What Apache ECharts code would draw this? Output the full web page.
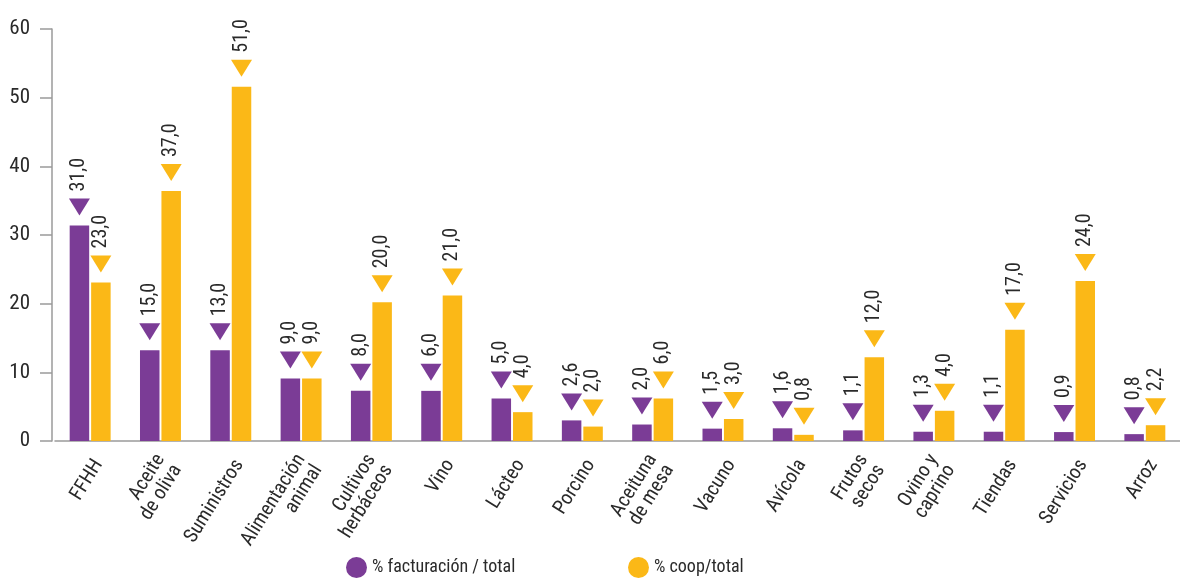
<!DOCTYPE html>
<html>
<head>
<meta charset="utf-8">
<script src="https://cdn.jsdelivr.net/npm/echarts@6/dist/echarts.min.js"></script>
<style>
html,body{margin:0;padding:0;background:#fff;}
#chart{width:1180px;height:581px;}
</style>
</head>
<body>
<div id="chart"></div>
<script>
const categories = ["FFHH","Aceite\nde oliva","Suministros","Alimentación\nanimal","Cultivos\nherbáceos","Vino","Lácteo","Porcino","Aceituna\nde mesa","Vacuno","Avícola","Frutos\nsecos","Ovino y\ncaprino","Tiendas","Servicios","Arroz"];
const seriesNames = ["% facturación / total", "% coop/total"];
// bar heights as drawn
const facturacion = [31.4,13.2,13.2,9.1,7.3,7.3,6.2,3.0,2.4,1.8,1.85,1.55,1.35,1.35,1.3,1.0];
const coop = [23.1,36.4,51.6,9.1,20.2,21.2,4.2,2.1,6.2,3.2,0.9,12.2,4.4,16.2,23.3,2.3];
// printed value labels
const facturacionLabels = ["31,0","15,0","13,0","9,0","8,0","6,0","5,0","2,6","2,0","1,5","1,6","1,1","1,3","1,1","0,9","0,8"];
const coopLabels = ["23,0","37,0","51,0","9,0","20,0","21,0","4,0","2,0","6,0","3,0","0,8","12,0","4,0","17,0","24,0","2,2"];
const yTicks = [0,10,20,30,40,50,60];

const PURPLE = "#7b3c96";
const ORANGE = "#fbb817";
const FONT = "'Roboto Condensed','Noto Sans Condensed','Liberation Sans Narrow','DejaVu Sans Condensed',sans-serif";
const TXT = "#2a2a2a";

function makeSeries(name, vals, labels, color){
  return {
    name: name,
    type: 'bar',
    data: vals,
    barWidth: 19.5,
    barGap: '10%',
    itemStyle: {color: color},
    label: {
      show: true,
      position: 'top',
      distance: 34,
      rotate: 90,
      align: 'left',
      verticalAlign: 'middle',
      fontFamily: FONT,
      fontSize: 20,
      color: TXT,
      formatter: p => labels[p.dataIndex]
    },
    markPoint: {
      symbol: 'triangle',
      symbolSize: [21, 17],
      symbolRotate: 180,
      symbolOffset: [0, -18.5],
      silent: true,
      animation: false,
      itemStyle: {color: color},
      label: {show: false},
      data: vals.map((v, i) => ({coord: [categories[i], v]}))
    }
  };
}

const legendText = {fontFamily: FONT, fontSize: 18, color: TXT};
const chart = echarts.init(document.getElementById('chart'), null, {renderer: 'canvas'});
chart.setOption({
  animation: false,
  backgroundColor: '#fff',
  grid: {left: 55, right: -7, top: 29, bottom: 140, containLabel: false},
  legend: [
    {data: [seriesNames[0]], left: 341, top: 552, icon: 'circle', itemWidth: 21, itemHeight: 21, itemGap: 6, textStyle: legendText},
    {data: [seriesNames[1]], left: 623, top: 552, icon: 'circle', itemWidth: 21, itemHeight: 21, itemGap: 6, textStyle: legendText}
  ],
  xAxis: {
    type: 'category',
    data: categories,
    axisLine: {lineStyle: {color: '#9a9a9a', width: 1.5}},
    axisTick: {show: false},
    axisLabel: {
      interval: 0,
      rotate: 58,
      margin: 15,
      formatter: v => '\n' + v,
      fontFamily: FONT,
      fontSize: 20,
      lineHeight: 20,
      color: TXT
    }
  },
  yAxis: {
    type: 'value',
    min: yTicks[0],
    max: yTicks[yTicks.length - 1],
    interval: 10,
    offset: 3,
    splitLine: {show: false},
    axisLine: {show: true, lineStyle: {color: '#9a9a9a', width: 1.5}},
    axisTick: {show: true, length: 12, lineStyle: {color: '#9a9a9a', width: 1.5}},
    axisLabel: {
      margin: 22,
      fontFamily: FONT,
      fontSize: 21,
      color: TXT
    }
  },
  series: [
    makeSeries(seriesNames[0], facturacion, facturacionLabels, PURPLE),
    makeSeries(seriesNames[1], coop, coopLabels, ORANGE)
  ]
});
</script>
</body>
</html>
